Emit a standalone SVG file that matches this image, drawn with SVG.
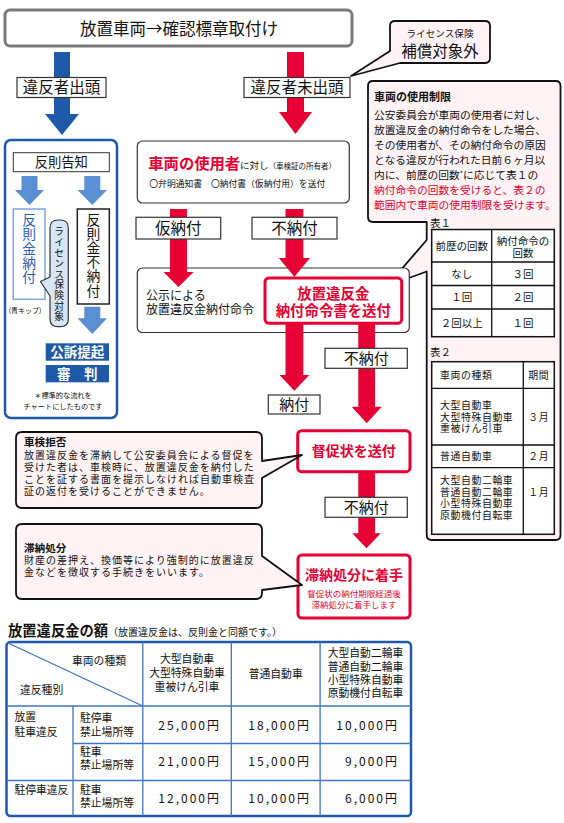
<svg xmlns="http://www.w3.org/2000/svg" width="564" height="823" viewBox="0 0 564 823">
<style>
text{font-family:"Noto Sans CJK JP","Noto Sans CJK SC",sans-serif;fill:#111}
.c{text-anchor:middle}
.e{text-anchor:end}
.v{writing-mode:vertical-rl}
.lbl{fill:#fff;stroke:#333;stroke-width:1.2}
.red{fill:#e60033}
.rbox{fill:#fff;stroke:#e60033;stroke-width:3}
.rt{fill:#e60033;font-weight:bold}
.pink{fill:#fff3f6;stroke:#111;stroke-width:1.8;stroke-linejoin:round}
.box{fill:#fff;stroke:#333;stroke-width:1.2}
.lb{fill:#5b8fd3}
.db{fill:#1e5aa8}
.tb{fill:none;stroke:#111;stroke-width:1.3}
.bt{stroke:#3f74c2;stroke-width:1.3;fill:none}
.w{fill:#fff;font-weight:bold}
.blu{fill:#2a62b8}
</style>
<rect width="564" height="823" fill="#fff"/>

<g id="title">
<rect x="5" y="10" width="347" height="36" rx="5" fill="#fff" stroke="#7a7a7a" stroke-width="3"/>
<text class="c" x="179" y="34.5" font-size="16.5">放置車両→確認標章取付け</text>
</g>

<g id="callout-license">
<path class="pink" d="M395,21 H485 Q490,21 490,26 V58 Q490,63 485,63 H400 L351,76 L390,51 V26 Q390,21 395,21 Z" stroke-width="1.5"/>
<text class="c" x="440" y="37" font-size="9.6">ライセンス保険</text>
<text class="c" x="440" y="56.5" font-size="15.5">補償対象外</text>
</g>

<g id="callout-restriction">
<path class="pink" d="M373,81 H555.5 Q560.5,81 560.5,86 V535 Q560.5,540 555.5,540 H431.7 Q426.7,540 426.7,535 V271.5 L387,286 L426.7,240 V222 H373 Q368,222 368,217 V86 Q368,81 373,81 Z"/>
<text x="374" y="101" font-size="11" font-weight="bold">車両の使用制限</text>
<g font-size="10.75">
<text x="374" y="118.7">公安委員会が車両の使用者に対し、</text>
<text x="374" y="133.8">放置違反金の納付命令をした場合、</text>
<text x="374" y="148.8">その使用者が、その納付命令の原因</text>
<text x="374" y="163.9">となる違反が行われた日前６ヶ月以</text>
<text x="374" y="178.9">内に、前歴の回数<tspan font-size="7" dy="-3">*</tspan><tspan dy="3">に応じて表１の</tspan></text>
<text x="374" y="194" class="red">納付命令の回数を受けると、表２の</text>
<text x="374" y="209" class="red">範囲内で車両の使用制限を受けます。</text>
</g>
<g id="table1" font-size="10.5">
<text x="430" y="226.5">表１</text>
<rect x="431.7" y="229.5" width="122.6" height="107.2" fill="#fff" stroke="#111" stroke-width="1.5"/>
<path class="tb" d="M491.7,229.5 V336.7 M431.7,262 H554.3 M431.7,285.5 H554.3 M431.7,309 H554.3"/>
<text class="c" x="461.7" y="250">前歴の回数</text>
<text class="c" x="523" y="244.5">納付命令の</text>
<text class="c" x="523" y="257">回数</text>
<text class="c" x="461.7" y="277.5">なし</text>
<text class="c" x="523" y="277.5">３回</text>
<text class="c" x="461.7" y="301">１回</text>
<text class="c" x="523" y="301">２回</text>
<text class="c" x="461.7" y="326.5">２回以上</text>
<text class="c" x="523" y="326.5">１回</text>
</g>
<g id="table2" font-size="9.9" letter-spacing="0.6">
<text x="430" y="356" font-size="10.5" letter-spacing="0">表２</text>
<rect x="431.7" y="361.7" width="122.6" height="172.6" fill="#fff" stroke="#111" stroke-width="1.5"/>
<path class="tb" d="M523.3,361.7 V534.3 M431.7,388.3 H554.3 M431.7,445 H554.3 M431.7,467.7 H554.3"/>
<text x="440" y="379">車両の種類</text>
<text class="c" x="538.8" y="379">期間</text>
<text x="440" y="408.8">大型自動車</text>
<text x="440" y="420.5">大型特殊自動車</text>
<text x="440" y="432.2">重被けん引車</text>
<text class="c" x="538.8" y="420.5">３月</text>
<text x="440" y="460">普通自動車</text>
<text class="c" x="538.8" y="460">２月</text>
<text x="440" y="483.9">大型自動二輪車</text>
<text x="440" y="495.6">普通自動二輪車</text>
<text x="440" y="507.3">小型特殊自動車</text>
<text x="440" y="519">原動機付自転車</text>
<text class="c" x="538.8" y="495.6">１月</text>
</g>
</g>

<g id="appear-flow">
<rect x="5" y="140" width="112" height="278" rx="6" fill="#fff" stroke="#1e5aa8" stroke-width="2.5"/>
<g id="notice">
<rect x="13.3" y="152.7" width="96" height="19" fill="#fff" stroke="#333" stroke-width="1"/>
<text class="c" x="61.3" y="167" font-size="13.3">反則告知</text>
</g>
<g id="paid">
<rect x="13.3" y="209" width="31.7" height="90.3" fill="#fff" stroke="#7ea6dc" stroke-width="1.5"/>
<text class="v blu" x="29.2" y="213" font-size="13.8" letter-spacing="0.4">反則金納付</text>
<text class="c" x="25" y="312.5" font-size="7">(青キップ)</text>
</g>
<g id="unpaid">
<rect x="77.3" y="209" width="32" height="95" fill="#fff" stroke="#222" stroke-width="1.5"/>
<text class="v" x="93.3" y="212.4" font-size="13.8" letter-spacing="0.4">反則金不納付</text>
</g>
<g id="bubble-insured">
<path d="M58,220 H60.3 Q68.3,220 68.3,228 V318.7 Q68.3,326.7 60.3,326.7 H58 Q50,326.7 50,318.7 V296 L40.5,281.5 L50,277 V228 Q50,220 58,220 Z" fill="#d6e6f6" stroke="#333" stroke-width="1.2" stroke-linejoin="round"/>
<text class="v" x="59.2" y="226.8" font-size="9.8" letter-spacing="0.8">ライセンス保険対象</text>
</g>
<g id="prosecution">
<rect class="db" x="45.7" y="343.3" width="63.3" height="17.4"/>
<text class="c w" x="77.3" y="357" font-size="13.5">公訴提起</text>
</g>
<g id="trial">
<rect class="db" x="45.7" y="365" width="63.3" height="17.3"/>
<text class="c w" x="77.3" y="378.7" font-size="13.5">審　判</text>
</g>
<text class="c" x="63" y="397.6" font-size="7.2">＊標準的な流れを</text>
<text class="c" x="63" y="408.6" font-size="7.2">チャートにしたものです</text>
</g>

<g id="user-notice">
<rect class="box" x="137.3" y="141" width="212" height="62" rx="5"/>
<text x="148.3" y="169"><tspan class="rt" font-size="15.3">車両の使用者</tspan><tspan font-size="9.5">に対し</tspan><tspan font-size="7.5">（車検証の所有者）</tspan></text>
<text x="149.3" y="186.5" font-size="8.8">〇弁明通知書　〇納付書（仮納付用）を送付</text>
</g>

<g id="public-order">
<rect class="box" x="137.3" y="268" width="272" height="64.5" rx="5"/>
<text x="146" y="299.5" font-size="12">公示による</text>
<text x="146" y="313.7" font-size="12">放置違反金納付命令</text>
</g>

<g id="order-sent">
<rect class="rbox" x="265" y="278" width="136.7" height="45.3" rx="4"/>
<text class="c rt" x="333.3" y="298.6" font-size="14.4">放置違反金</text>
<text class="c rt" x="333.3" y="316" font-size="14.4">納付命令書を送付</text>
</g>

<g id="reminder-sent">
<rect class="rbox" x="297.7" y="430.7" width="112.3" height="41" rx="4"/>
<text class="c rt" x="353.8" y="456" font-size="14">督促状を送付</text>
</g>

<g id="disposition">
<rect class="rbox" x="298" y="555" width="112" height="63" rx="4"/>
<text class="c rt" x="354" y="580.2" font-size="14">滞納処分に着手</text>
<text class="c red" x="354" y="597.2" font-size="8.5">督促状の納付期限経過後</text>
<text class="c red" x="354" y="607.5" font-size="8.5">滞納処分に着手します</text>
</g>

<g id="callout-inspection">
<path class="pink" d="M22,432 H256 Q262,432 262,438 V461 L302,455 L262,478 V502 Q262,508 256,508 H22 Q16,508 16,502 V438 Q16,432 22,432 Z"/>
<text x="24" y="446" font-size="10.6" font-weight="bold">車検拒否</text>
<g font-size="10" letter-spacing="1">
<text x="24" y="458.5">放置違反金を滞納して公安委員会による督促を</text>
<text x="24" y="470.5">受けた者は、車検時に、放置違反金を納付した</text>
<text x="24" y="482.5">ことを証する書面を提示しなければ自動車検査</text>
<text x="24" y="494.5">証の返付を受けることができません。</text>
</g>
</g>

<g id="callout-disposition">
<path class="pink" d="M22,524 H256 Q262,524 262,530 V556 L302,585 L262,590 V593 Q262,599 256,599 H22 Q16,599 16,593 V530 Q16,524 22,524 Z"/>
<text x="24" y="551.5" font-size="10.6" font-weight="bold">滞納処分</text>
<g font-size="10" letter-spacing="1">
<text x="24" y="563.5">財産の差押え、換価等により強制的に放置違反</text>
<text x="24" y="575.5">金などを徴収する手続きをいいます。</text>
</g>
</g>

<g id="connectors">
<path class="db" d="M54,52 H70 V114 H79 L62,135 L45,114 H54 Z"/>
<path class="red" d="M287,52 H304 V112 H312 L295.5,134 L279,112 H287 Z"/>
<path class="lb" d="M21.5,176 H37.5 V190 H44 L29.5,205 L15,190 H21.5 Z"/>
<path class="lb" d="M84.3,176 H100.3 V190 H107 L92.3,205 L77.5,190 H84.3 Z"/>
<path class="lb" d="M84.3,306.7 H100.3 V318.3 H107 L92.3,334 L77.5,318.3 H84.3 Z"/>
<path class="red" d="M170,209 H187 V272 H193.5 L178.5,287 L163.5,272 H170 Z"/>
<path class="red" d="M285.5,209 H303.3 V258 H310 L294.4,276.7 L278.8,258 H285.5 Z"/>
<path class="red" d="M285.5,323 H303.3 V375 H309.3 L294.4,390.7 L279.5,375 H285.5 Z"/>
<path class="red" d="M358.3,323 H375 V406.7 H381.7 L366.7,423.3 L351.7,406.7 H358.3 Z"/>
<path class="red" d="M358.3,471.7 H375 V533.3 H380.7 L366.5,548.3 L352.3,533.3 H358.3 Z"/>
<g id="label-appear"><rect class="lbl" x="17" y="77.5" width="89" height="20"/><text class="c" x="61.5" y="93.2" font-size="15.5">違反者出頭</text></g>
<g id="label-noappear"><rect class="lbl" x="244" y="77.5" width="106" height="20"/><text class="c" x="297" y="93.2" font-size="15.5">違反者未出頭</text></g>
<g id="label-provisional"><rect class="lbl" x="136" y="217.3" width="84.7" height="21.7"/><text class="c" x="178.3" y="234" font-size="15.5">仮納付</text></g>
<g id="label-unpaid1"><rect class="lbl" x="252" y="217.3" width="85" height="21.7"/><text class="c" x="294.5" y="234" font-size="15.5">不納付</text></g>
<g id="label-paid"><rect class="lbl" x="268.3" y="395" width="51.7" height="19"/><text class="c" x="294.2" y="410" font-size="15">納付</text></g>
<g id="label-unpaid2"><rect class="lbl" x="325" y="348.3" width="82.3" height="20"/><text class="c" x="366.2" y="364" font-size="15">不納付</text></g>
<g id="label-unpaid3"><rect class="lbl" x="325" y="497.3" width="82.3" height="20"/><text class="c" x="366.2" y="513" font-size="15">不納付</text></g>
</g>

<g id="fine-table">
<text x="8" y="636.3"><tspan font-size="14.3" font-weight="bold">放置違反金の額</tspan><tspan font-size="10">（放置違反金は、反則金と同額です。）</tspan></text>
<rect x="6.5" y="642" width="404.5" height="174" rx="4" fill="#fff" stroke="#1e5aa8" stroke-width="2.5"/>
<path class="bt" d="M6.5,706 H411 M73,743.5 H411 M6.5,780.5 H411 M73,706 V816 M142.8,642 V816 M231.3,642 V816 M320.1,642 V816 M7,642.5 L142.8,706"/>
<g font-size="10.8">
<text x="72" y="665.2">車両の種類</text>
<text x="20" y="693.7">違反種別</text>
<text class="c" x="187" y="663.3">大型自動車</text>
<text class="c" x="187" y="677">大型特殊自動車</text>
<text class="c" x="187" y="690.7">重被けん引車</text>
<text class="c" x="275.7" y="677.6">普通自動車</text>
<text class="c" x="365.5" y="657.2">大型自動二輪車</text>
<text class="c" x="365.5" y="670.6">普通自動二輪車</text>
<text class="c" x="365.5" y="684">小型特殊自動車</text>
<text class="c" x="365.5" y="697.4">原動機付自転車</text>
<text x="14.4" y="720.5">放置</text>
<text x="14.4" y="735.6">駐車違反</text>
<text x="80" y="722.2">駐停車</text>
<text x="80" y="735.6">禁止場所等</text>
<text x="80" y="755.7">駐車</text>
<text x="80" y="769.1">禁止場所等</text>
<text x="14.4" y="794.3">駐停車違反</text>
<text x="80" y="793.6">駐車</text>
<text x="80" y="807.1">禁止場所等</text>
</g>
<g font-size="12" letter-spacing="2">
<text class="e" x="221" y="730.3">25,000円</text>
<text class="e" x="311" y="730.3">18,000円</text>
<text class="e" x="399" y="730.3">10,000円</text>
<text class="e" x="221" y="766.2">21,000円</text>
<text class="e" x="311" y="766.2">15,000円</text>
<text class="e" x="399" y="766.2">9,000円</text>
<text class="e" x="221" y="803.1">12,000円</text>
<text class="e" x="311" y="803.1">10,000円</text>
<text class="e" x="399" y="803.1">6,000円</text>
</g>
</g>
</svg>
